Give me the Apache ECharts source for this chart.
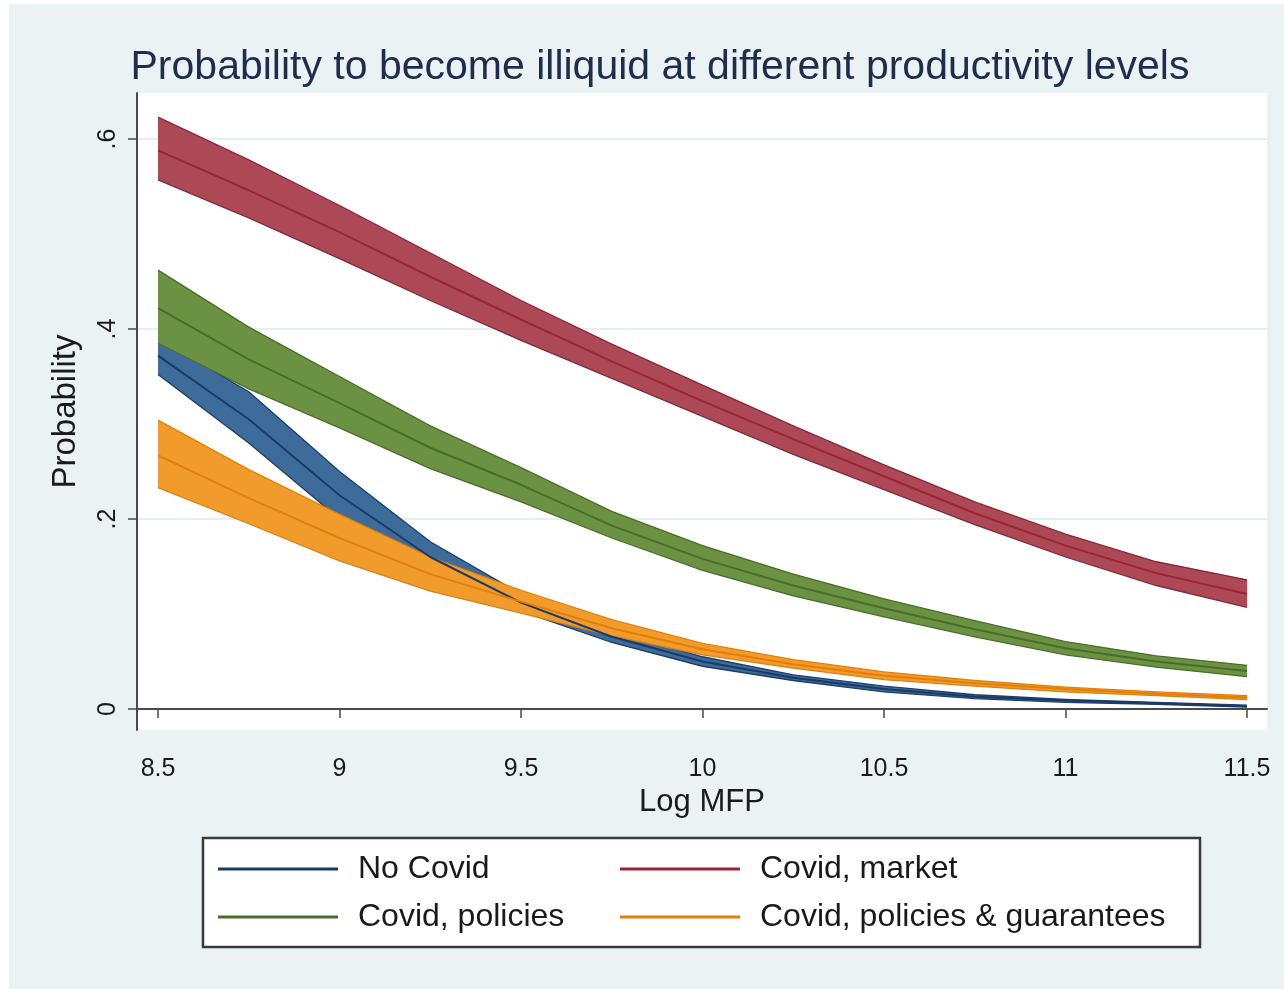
<!DOCTYPE html>
<html>
<head>
<meta charset="utf-8">
<script src="https://cdn.jsdelivr.net/npm/echarts@6/dist/echarts.min.js"></script>
<style>
html,body{margin:0;padding:0;background:#ffffff;}
#chart{width:1284px;height:989px;}
</style>
</head>
<body>
<div id="chart"></div>
<script>
// ---- data ----
const xs = [8.5, 8.75, 9, 9.25, 9.5, 9.75, 10, 10.25, 10.5, 10.75, 11, 11.25, 11.5];

const noCovidMid = [0.372,0.305,0.225,0.160,0.112,0.076,0.050,0.033,0.021,0.013,0.009,0.006,0.003];
const noCovidHi  = [0.390,0.334,0.250,0.176,0.121,0.082,0.055,0.036,0.024,0.015,0.010,0.007,0.004];
const noCovidLo  = [0.352,0.280,0.200,0.144,0.103,0.070,0.045,0.030,0.018,0.011,0.007,0.005,0.002];

const marketMid = [0.588,0.546,0.502,0.455,0.410,0.366,0.324,0.284,0.245,0.206,0.172,0.143,0.121];
const marketHi  = [0.623,0.578,0.530,0.480,0.430,0.384,0.341,0.298,0.257,0.218,0.184,0.155,0.136];
const marketLo  = [0.557,0.517,0.474,0.430,0.388,0.348,0.308,0.268,0.231,0.194,0.160,0.130,0.107];

const policiesMid = [0.422,0.368,0.322,0.275,0.236,0.193,0.158,0.130,0.106,0.084,0.064,0.050,0.040];
const policiesHi  = [0.462,0.402,0.350,0.298,0.254,0.208,0.172,0.142,0.116,0.093,0.071,0.056,0.046];
const policiesLo  = [0.385,0.337,0.296,0.253,0.218,0.180,0.146,0.119,0.097,0.076,0.057,0.044,0.034];

const guarMid = [0.267,0.222,0.180,0.142,0.113,0.085,0.063,0.047,0.035,0.027,0.021,0.016,0.012];
const guarHi  = [0.304,0.252,0.205,0.160,0.125,0.094,0.069,0.052,0.039,0.030,0.023,0.018,0.014];
const guarLo  = [0.233,0.195,0.156,0.124,0.101,0.077,0.057,0.043,0.031,0.024,0.018,0.014,0.010];

const seriesNames = ['No Covid', 'Covid, market', 'Covid, policies', 'Covid, policies & guarantees'];
const yTickValues = [0, 0.2, 0.4, 0.6];
const yTickLabels = ['0', '.2', '.4', '.6'];
const xTickValues = [8.5, 9, 9.5, 10, 10.5, 11, 11.5];
const xTickLabels = ['8.5', '9', '9.5', '10', '10.5', '11', '11.5'];

// ---- styling ----
const FONT = 'Liberation Sans, Arial, sans-serif';
const groups = [
  {name: seriesNames[0], lo: noCovidLo, hi: noCovidHi, mid: noCovidMid, fill: '#3d6b9a', edge: '#1c3e69', line: '#1a3a66'},
  {name: seriesNames[1], lo: marketLo, hi: marketHi, mid: marketMid, fill: '#ad4957', edge: '#83293a', line: '#9b2436'},
  {name: seriesNames[2], lo: policiesLo, hi: policiesHi, mid: policiesMid, fill: '#6b9243', edge: '#4b6d2b', line: '#4a6c2a'},
  {name: seriesNames[3], lo: guarLo, hi: guarHi, mid: guarMid, fill: '#f19b2c', edge: '#e0800c', line: '#e27f08'}
];

const series = [];
groups.forEach((g) => {
  series.push({
    name: g.name + ' CI', type: 'custom', silent: true, clip: true,
    data: xs.map((x, i) => [x, g.lo[i], g.hi[i]]),
    encode: {x: 0, y: [1, 2]},
    renderItem: function (params, api) {
      if (params.dataIndex !== 0) return null;
      const upper = xs.map((x, i) => api.coord([x, g.hi[i]]));
      const lower = xs.map((x, i) => api.coord([x, g.lo[i]]));
      const poly = upper.concat(lower.slice().reverse());
      return {
        type: 'group',
        children: [
          {type: 'polygon', shape: {points: poly}, style: {fill: g.fill, stroke: null}},
          {type: 'polyline', shape: {points: upper}, style: {fill: null, stroke: g.edge, lineWidth: 1.3}},
          {type: 'polyline', shape: {points: lower}, style: {fill: null, stroke: g.edge, lineWidth: 1.3}}
        ]
      };
    }
  });
});
groups.forEach((g) => {
  series.push({
    name: g.name, type: 'line', symbol: 'none',
    data: xs.map((x, i) => [x, g.mid[i]]),
    itemStyle: {color: g.line},
    lineStyle: {color: g.line, width: 2}
  });
});

const legendCommon = {
  orient: 'vertical', padding: 0, itemWidth: 120, itemHeight: 3, icon: 'rect', itemGap: 12,
  selectedMode: false,
  textStyle: {fontFamily: FONT, fontSize: 32, color: '#1a1a1a', lineHeight: 36, padding: [0, 0, 0, 15]}
};

const option = {
  backgroundColor: '#eaf2f3',
  animation: false,
  title: {
    text: 'Probability to become illiquid at different productivity levels',
    left: 655, top: 42, textAlign: 'center',
    textStyle: {fontFamily: FONT, fontSize: 41, fontWeight: 'normal', color: '#1e2c4e'}
  },
  legend: [
    Object.assign({}, legendCommon, {left: 218, top: 851, data: [seriesNames[0], seriesNames[2]]}),
    Object.assign({}, legendCommon, {left: 620, top: 851, data: [seriesNames[1], seriesNames[3]]})
  ],
  grid: {left: 137, right: 17, top: 93, bottom: 259, show: true, backgroundColor: '#ffffff', borderWidth: 0},
  xAxis: {
    type: 'value', min: 8.4421, max: 11.5551,
    name: 'Log MFP', nameLocation: 'middle', nameGap: 57,
    nameTextStyle: {fontFamily: FONT, fontSize: 31, color: '#1a1a1a'},
    axisLine: {show: true, lineStyle: {color: '#4a4a4a', width: 2}},
    axisTick: {show: true, length: 9, lineStyle: {color: '#4a4a4a', width: 1.5}, customValues: xTickValues},
    axisLabel: {
      customValues: xTickValues, margin: 27,
      fontFamily: FONT, fontSize: 25, color: '#1a1a1a',
      formatter: (v) => { const i = xTickValues.indexOf(v); return i >= 0 ? xTickLabels[i] : ''; }
    },
    splitLine: {show: false}
  },
  yAxis: {
    type: 'value', min: -0.0221, max: 0.6484,
    name: 'Probability', nameLocation: 'middle', nameGap: 55, nameRotate: 90,
    nameTextStyle: {fontFamily: FONT, fontSize: 33, color: '#1a1a1a'},
    axisLine: {show: true, lineStyle: {color: '#4a4a4a', width: 2}},
    axisTick: {show: true, length: 9, lineStyle: {color: '#4a4a4a', width: 1.5}, customValues: yTickValues},
    axisLabel: {
      customValues: yTickValues, margin: 16, rotate: 90,
      fontFamily: FONT, fontSize: 25, color: '#1a1a1a',
      formatter: (v) => { const i = yTickValues.findIndex(t => Math.abs(t - v) < 1e-9); return i >= 0 ? yTickLabels[i] : ''; }
    },
    splitLine: {show: true, lineStyle: {color: '#e8eff1', width: 2}}
  },
  graphic: [
    {type: 'rect', z: 1, shape: {x: 203, y: 838, width: 997, height: 109},
     style: {fill: '#ffffff', stroke: '#3a3a3a', lineWidth: 2.5}},
    {type: 'rect', z: 1, shape: {x: 0, y: 0, width: 9, height: 989}, style: {fill: '#ffffff'}},
    {type: 'rect', z: 1, shape: {x: 0, y: 0, width: 1284, height: 4}, style: {fill: '#ffffff'}}
  ],
  series: series
};

const chart = echarts.init(document.getElementById('chart'), null, {renderer: 'canvas'});
chart.setOption(option);
</script>
</body>
</html>
